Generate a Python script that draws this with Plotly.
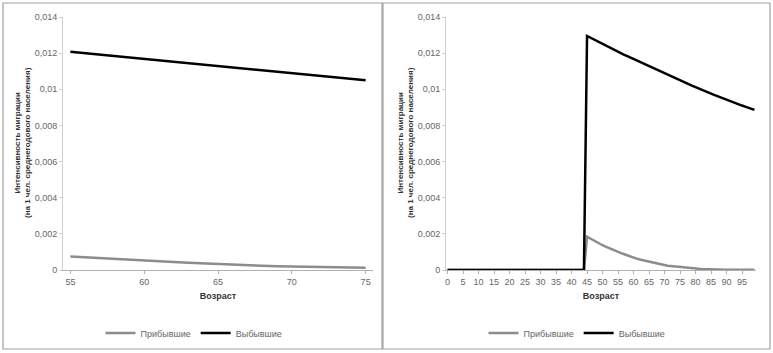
import plotly.graph_objects as go

# ---- data ----
ages_left = list(range(55, 76))
arrived_left = [0.00075, 0.00070, 0.00065, 0.00061, 0.00056, 0.00052, 0.00048, 0.00044,
                0.00040, 0.00036, 0.00032, 0.00029, 0.00026, 0.00023, 0.00021, 0.00019,
                0.00017, 0.00015, 0.00014, 0.00013, 0.00012]
departed_left = [0.01208, 0.01200, 0.01192, 0.01184, 0.01176, 0.01168, 0.01160, 0.01153,
                 0.01145, 0.01138, 0.01131, 0.01123, 0.01115, 0.01107, 0.01100, 0.01092,
                 0.01084, 0.01076, 0.01068, 0.01059, 0.01050]

ages_right = list(range(0, 100))
arrived_right = [0.0] * 45 + [
    0.00184, 0.00174, 0.00164, 0.00155, 0.00146, 0.00137, 0.00129, 0.00121, 0.00114, 0.00107,
    0.00100, 0.00093, 0.00087, 0.00080, 0.00074, 0.00068, 0.00063, 0.00058, 0.00054, 0.00049,
    0.00045, 0.00041, 0.00037, 0.00033, 0.00030, 0.00027, 0.00024, 0.00022, 0.00020, 0.00018,
    0.00016, 0.00014, 0.00012, 0.00011, 0.00009, 0.00008, 0.00007, 0.00006, 0.00005, 0.00005,
    0.00004, 0.00004, 0.00003, 0.00003, 0.00002, 0.00002, 0.00002, 0.00001, 0.00001, 0.00001,
    0.00001, 0.00001, 0.00001, 0.00001, 0.00001]
departed_right = [0.0] * 45 + [
    0.01295, 0.01286, 0.01277, 0.01268, 0.01259, 0.01250, 0.01242, 0.01233, 0.01225, 0.01216,
    0.01208, 0.01199, 0.01191, 0.01183, 0.01175, 0.01167, 0.01159, 0.01151, 0.01143, 0.01135,
    0.01127, 0.01119, 0.01111, 0.01103, 0.01096, 0.01088, 0.01080, 0.01073, 0.01065, 0.01058,
    0.01050, 0.01042, 0.01034, 0.01027, 0.01019, 0.01012, 0.01004, 0.00997, 0.00990, 0.00983,
    0.00976, 0.00969, 0.00962, 0.00955, 0.00948, 0.00942, 0.00935, 0.00929, 0.00922, 0.00916,
    0.00910, 0.00904, 0.00898, 0.00892, 0.00886]

y_ticks = [0, 0.002, 0.004, 0.006, 0.008, 0.010, 0.012, 0.014]
y_tick_text = ["0", "0,002", "0,004", "0,006", "0,008", "0,01", "0,012", "0,014"]
x_ticks_left = list(range(55, 76, 5))
x_ticks_right = list(range(0, 100, 5))

name_arr = "Прибывшие"
name_dep = "Выбывшие"
y_title = "Интенсивность миграции<br>(на 1 чел. среднегодового населения)"
x_title = "Возраст"

# ---- styling ----
W, H = 773, 353
FONT = "Liberation Sans Narrow, Arial Narrow, Liberation Sans, sans-serif"
GREY = "#8c8c8c"
BLACK = "#000000"
TICKC = "#666666"

fig = go.Figure()
fig.add_trace(go.Scatter(x=ages_left, y=arrived_left, mode="lines", name=name_arr,
                         line=dict(color=GREY, width=2.5), xaxis="x", yaxis="y", legend="legend"))
fig.add_trace(go.Scatter(x=ages_left, y=departed_left, mode="lines", name=name_dep,
                         line=dict(color=BLACK, width=2.5), xaxis="x", yaxis="y", legend="legend"))
fig.add_trace(go.Scatter(x=ages_right, y=arrived_right, mode="lines", name=name_arr,
                         line=dict(color=GREY, width=2.5), xaxis="x2", yaxis="y2", legend="legend2"))
fig.add_trace(go.Scatter(x=ages_right, y=departed_right, mode="lines", name=name_dep,
                         line=dict(color=BLACK, width=2.5), xaxis="x2", yaxis="y2", legend="legend2"))

def px_x(p):
    return p / W

def px_y(p):
    return 1 - p / H

ydom = [px_y(270), px_y(17)]
common_x = dict(showgrid=False, zeroline=False, showline=True, linecolor="#b0b0b0", linewidth=1,
                ticks="outside", ticklen=3, tickcolor="#b0b0b0", automargin=False,
                tickfont=dict(family=FONT, size=9, color=TICKC),
                title=dict(text="<b>" + x_title + "</b>", font=dict(family=FONT, size=9, color="#333333"),
                           standoff=6))
common_y = dict(showgrid=False, zeroline=False, showline=True, linecolor="#d0d0d0", linewidth=1,
                ticks="outside", ticklen=3, tickcolor="#d0d0d0", range=[0, 0.014], automargin=False,
                tickvals=y_ticks, ticktext=y_tick_text,
                tickfont=dict(family=FONT, size=9, color=TICKC), domain=ydom)

fig.update_layout(
    width=W, height=H, margin=dict(l=0, r=0, t=0, b=0, autoexpand=False),
    paper_bgcolor="white", plot_bgcolor="white",
    xaxis=dict(domain=[px_x(63), px_x(373)], range=[54.5, 75.5], tickvals=x_ticks_left,
               anchor="y", **common_x),
    yaxis=dict(anchor="x", **common_y),
    xaxis2=dict(domain=[px_x(446), px_x(756)], range=[-0.5, 99.5], tickvals=x_ticks_right,
                anchor="y2", **common_x),
    yaxis2=dict(anchor="x2", **common_y),
    legend=dict(orientation="h", x=px_x(194), y=px_y(333), xanchor="center", yanchor="middle",
                font=dict(family=FONT, size=9, color=TICKC), itemwidth=30,
                bgcolor="rgba(0,0,0,0)", tracegroupgap=0),
    legend2=dict(orientation="h", x=px_x(577), y=px_y(333), xanchor="center", yanchor="middle",
                 font=dict(family=FONT, size=9, color=TICKC), itemwidth=30,
                 bgcolor="rgba(0,0,0,0)", tracegroupgap=0),
    showlegend=True,
)

for xc in (23, 406):
    fig.add_annotation(x=px_x(xc), y=px_y(143), xref="paper", yref="paper", text="<b>" + y_title + "</b>",
                       textangle=-90, showarrow=False, xanchor="center", yanchor="middle",
                       font=dict(family=FONT, size=8, color="#333333"))

for x0, x1 in ((3, 382), (383, 770)):
    fig.add_shape(type="rect", xref="paper", yref="paper", x0=px_x(x0), x1=px_x(x1),
                  y0=px_y(349), y1=px_y(3), line=dict(color="#a0a0a0", width=1.2))

fig.write_html("out.html", config={"displayModeBar": False},
               post_script="document.body.style.margin='0';document.body.style.overflow='hidden';")
